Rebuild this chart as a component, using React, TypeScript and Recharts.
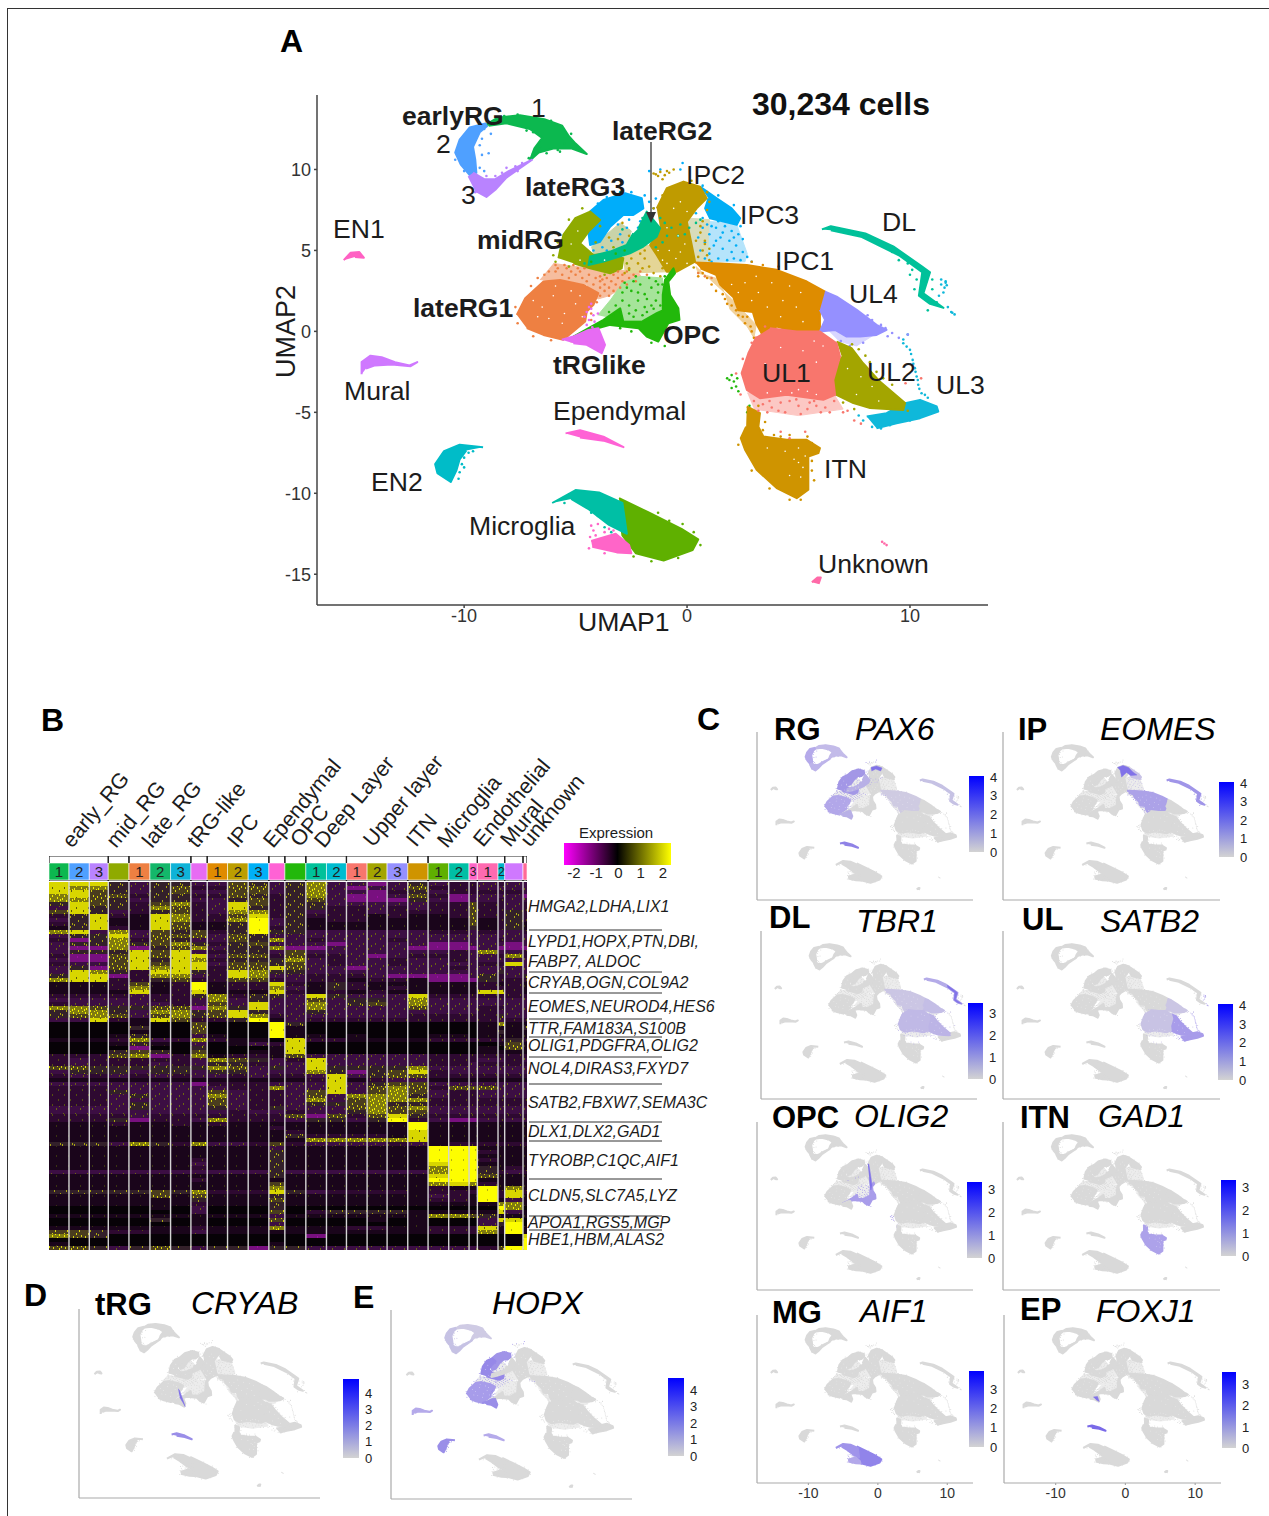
import React from 'react';
import { ScatterChart, Scatter, XAxis, YAxis, BarChart, Bar, Cell, ReferenceLine, LabelList } from 'recharts';

const FONT = '"Liberation Sans", Arial, sans-serif';

// ---------- UMAP cluster outlines and stray cells, in UMAP units ----------
const earlyRG1Outline = [[-9.1,12.7],[-8.5,13.2],[-7.5,13.35],[-6.4,13.1],[-5.6,12.7],[-5.3,12.05],[-5.0,11.6],[-4.5,10.95],[-5.2,11.3],[-6.0,11.3],[-6.65,11.05],[-7.05,10.55],[-6.85,11.3],[-6.5,11.95],[-7.05,12.5],[-8.1,12.85],[-8.9,12.7]];
const earlyRG1Cells = [[-6.9,10.9],[-6.6,11.4],[-6.3,11.0],[-5.8,11.2],[-5.0,11.3],[-7.2,12.4],[-6.9,12.3],[-6.9,11.0],[-4.8,11.2],[-5.2,12.2],[-7.6,13.4],[-8.2,13.3],[-6.1,13.0],[-5.5,11.6],[-5.7,11.1],[-7.1,10.7]];
const earlyRG2Outline = [[-9.0,12.85],[-9.75,12.6],[-10.2,11.85],[-10.4,11.05],[-10.15,10.3],[-9.75,9.65],[-9.45,9.8],[-9.5,10.6],[-9.6,11.4],[-9.3,12.3],[-8.95,12.7]];
const earlyRG2Cells = [[-9.3,11.5],[-9.2,10.9],[-9.3,10.1],[-9.1,9.9],[-8.9,11.0],[-9.2,11.9],[-8.8,12.2],[-10.4,10.6],[-10.0,9.9],[-9.1,12.5]];
const earlyRG3Outline = [[-9.8,9.6],[-9.45,8.65],[-9.0,8.3],[-8.6,8.75],[-8.1,9.5],[-6.95,10.6],[-8.0,9.9],[-8.6,9.4],[-9.1,9.4],[-9.6,9.8]];
const earlyRG3Cells = [[-8.6,9.6],[-8.3,9.8],[-7.7,10.2],[-7.4,10.4],[-9.0,9.6],[-8.1,10.1],[-7.6,9.9],[-8.3,9.3],[-9.5,8.6]];
const en1Outline = [[-15.4,4.4],[-15.1,4.85],[-14.7,4.9],[-14.5,4.55],[-14.9,4.6]];
const muralOutline = [[-14.6,-2.65],[-14.6,-1.9],[-14.2,-1.5],[-13.7,-1.6],[-13.1,-1.9],[-12.45,-2.1],[-12.1,-1.9],[-12.4,-2.15],[-13.25,-2.05],[-14.0,-2.1],[-14.4,-2.3]];
const lateRG3Outline = [[-4.35,7.4],[-3.75,8.12],[-2.78,8.53],[-2.03,8.22],[-1.96,7.6],[-2.41,7.19],[-2.86,7.19],[-3.45,6.47],[-3.9,5.54],[-4.35,5.34],[-4.42,6.06],[-3.9,6.88]];
const lateRG3Cells = [[-4.2,5.0],[-3.8,5.2],[-3.4,5.6],[-3.0,6.0],[-2.7,6.4],[-3.6,5.0],[-2.9,5.5],[-3.1,6.6],[-2.6,6.9],[-1.7,9.9],[-1.2,10.0],[-0.2,10.4],[-0.3,10.0],[-1.6,6.6],[-1.9,8.4],[-1.7,8.0],[-1.5,7.6],[-1.4,8.2],[-1.2,7.4],[-2.1,6.8],[-2.2,6.4],[-2.5,8.6],[-3.0,8.6],[-3.6,8.3],[-4.0,7.9]];
const midRGOutline = [[-5.77,4.52],[-5.55,5.96],[-5.02,6.99],[-4.35,7.4],[-3.9,6.88],[-4.42,6.16],[-4.8,5.44],[-4.2,4.72],[-3.45,4.82],[-2.86,4.52],[-2.93,3.9],[-3.45,3.59],[-4.35,3.9],[-5.1,4.21]];
const midRGCells = [[-4.3,6.6],[-3.9,6.5],[-4.1,5.5],[-4.5,5.0],[-3.3,5.2],[-4.7,7.6],[-5.3,6.9],[-5.8,5.5],[-6.0,4.7],[-5.9,4.3],[-2.7,4.2],[-2.6,3.8],[-3.7,3.5],[-5.3,4.0]];
const ipc3Outline = [[0.58,8.94],[1.33,8.22],[2.0,7.6],[2.38,6.99],[2.23,6.58],[1.63,6.78],[1.03,6.99],[0.81,7.6],[0.96,8.22]];
const ipc3Cells = [[0.9,6.6],[1.3,6.4],[1.7,6.5],[2.0,6.2],[2.3,6.0],[1.0,6.0],[1.5,5.8],[1.9,5.6],[2.2,5.3],[0.8,5.5],[1.2,5.3],[1.6,5.1],[2.0,4.9],[2.5,4.9],[2.7,4.6],[1.0,4.8],[1.4,4.5],[0.8,4.5],[1.8,4.4],[2.4,4.4],[0.5,5.8],[0.7,6.4],[2.1,4.5],[1.1,4.3],[0.6,5.0],[1.9,6.9],[2.9,4.3],[1.4,6.8],[1.6,6.1],[1.1,6.5],[0.7,7.0],[2.1,5.8],[1.3,5.6],[2.4,6.5],[2.5,5.7],[0.4,7.3],[0.7,9.0],[1.4,8.4],[2.1,7.8]];
const ipc2Outline = [[-1.36,7.6],[-0.91,8.84],[-0.16,9.25],[0.58,8.94],[0.88,8.22],[0.43,7.6],[-0.01,6.78],[0.21,5.34],[0.36,4.31],[-0.46,3.69],[-0.91,3.69],[-1.36,4.72],[-1.66,5.34],[-1.21,6.37]];
const ipc2Cells = [[1.0,8.0],[0.9,7.5],[0.7,6.8],[0.6,6.1],[0.8,5.6],[1.0,5.1],[-1.5,7.6],[-1.6,7.1],[-1.8,6.6],[-2.2,5.7],[-2.7,5.2],[-2.4,5.0],[-2.1,4.8],[-2.5,4.5],[-2.2,4.2],[-1.9,4.5],[-1.7,4.0],[-2.0,3.9],[-2.6,3.9],[-1.5,3.6],[-1.2,3.4],[0.5,4.6],[0.7,5.0],[0.4,5.6],[0.8,5.4],[0.9,4.7],[0.6,6.5],[0.3,3.95],[1.0,4.4],[-1.5,9.75],[-1.2,9.85],[-0.9,9.9],[-0.6,10.0],[-1.3,9.6],[-1.0,9.65],[-0.8,9.8],[-1.4,9.7],[-1.1,9.4],[-3.1,5.7],[-3.5,5.8],[-2.6,5.9],[-2.9,6.7],[-1.1,8.4],[0.2,9.3],[0.9,8.6],[-1.9,5.0],[-1.1,3.9],[-2.8,3.6]];
const lateRG2Outline = [[-2.18,6.37],[-1.81,7.4],[-1.21,6.37],[-1.36,5.85],[-1.96,5.24],[-2.56,4.82],[-3.75,4.31],[-4.42,4.1],[-4.35,4.62],[-3.45,4.93],[-2.71,5.34],[-2.41,6.06]];
const lateRG2Cells = [[-0.7,6.4],[-0.3,6.6],[0.1,6.4],[0.4,6.7],[0.6,6.9],[-0.4,5.9],[-0.9,5.9],[-1.0,6.7],[-1.4,5.2],[-1.1,5.5],[-2.9,6.3],[-4.6,4.2],[-1.2,7.0],[-0.1,6.0],[-2.0,7.0]];
const ipc1Outline = [[0.36,4.25],[1.48,4.2],[2.68,4.1],[4.02,3.8],[5.37,3.08],[6.19,2.46],[5.96,1.33],[5.96,0.09],[5.07,-0.11],[4.02,0.3],[3.42,-0.32],[3.1,0.5],[2.95,1.2],[2.3,1.3],[2.08,2.1],[1.48,2.9],[1.3,3.5],[0.6,3.9]];
const ipc1Cells = [[0.5,3.4],[0.9,3.3],[1.1,2.9],[1.3,2.5],[1.6,2.3],[1.8,1.7],[2.3,1.0],[2.6,0.5],[2.9,0.0],[2.7,0.9],[2.0,1.6],[2.5,0.9],[2.2,1.3],[0.7,3.6],[1.7,2.0],[3.0,-0.4],[2.85,0.3],[4.1,4.0],[2.9,4.3],[3.4,4.1]];
const lateRG1Outline = [[-7.64,1.02],[-7.26,2.05],[-6.44,3.08],[-5.7,3.18],[-4.65,2.87],[-3.98,2.36],[-4.2,1.64],[-4.5,1.22],[-4.57,0.61],[-5.55,-0.52],[-6.44,-0.22],[-7.19,0.2]];
const lateRG1Cells = [[-5.9,4.1],[-5.5,4.1],[-5.1,4.1],[-5.8,3.9],[-5.4,3.9],[-4.9,3.9],[-4.6,3.9],[-6.2,3.7],[-5.9,3.7],[-5.2,3.7],[-4.8,3.7],[-3.9,3.4],[-3.1,3.7],[-2.7,3.7],[-6.4,3.5],[-5.6,3.5],[-5.0,3.5],[-4.4,3.5],[-3.8,3.2],[-3.3,3.5],[-2.9,3.5],[-2.4,3.5],[-6.7,3.3],[-5.3,3.3],[-4.7,3.3],[-4.1,3.3],[-3.6,3.3],[-3.1,3.3],[-2.6,3.3],[-4.5,3.1],[-3.9,3.1],[-3.4,3.1],[-2.9,3.1],[-2.3,3.1],[-4.2,2.9],[-3.7,2.9],[-3.2,2.9],[-2.7,2.9],[-3.9,2.7],[-3.5,2.7],[-3.0,2.7],[-3.7,2.5],[-3.3,2.5],[-3.9,2.2],[-3.5,2.2],[-4.05,1.8],[-4.3,1.1],[-4.3,0.7],[-7.7,1.5],[-7.6,0.5],[-6.9,-0.3],[-6.1,-0.55],[-5.2,-0.6],[-2.1,3.7],[-1.8,3.5],[0.5,3.6],[0.8,3.4],[1.1,3.3],[-7.0,2.8]];
const opcOutline = [[-5.1,-0.32],[-3.75,0.71],[-3.0,1.43],[-2.86,0.61],[-2.03,0.61],[-1.36,1.12],[-1.09,1.3],[-1.09,2.25],[-0.99,3.18],[-0.61,3.9],[-0.54,3.59],[-0.84,3.08],[-0.76,2.25],[-0.39,1.43],[-0.34,0.71],[-0.84,0.5],[-1.29,-0.63],[-1.81,-0.32],[-2.18,0.2],[-3.45,0.4],[-4.5,0]];
const opcCells = [[-3.5,1.2],[-3.2,1.6],[-2.9,1.9],[-2.6,1.6],[-2.9,2.4],[-2.5,2.5],[-2.2,1.9],[-1.9,2.3],[-1.6,2.7],[-1.9,1.5],[-1.6,1.6],[-1.3,2.4],[-1.1,2.9],[-1.4,1.9],[-2.3,1.3],[-2.6,1.1],[-2.0,1.0],[-2.8,3.0],[-2.4,3.1],[-2.1,2.9],[-1.7,3.3],[-1.4,3.1],[-1.0,3.4],[-3.0,1.2],[-2.7,2.7],[-1.8,2.0],[-1.5,1.4],[-3.3,1.0],[-2.2,2.4],[-1.8,1.2],[-2.4,0.9],[-1.2,1.6],[-1.3,2.9],[-2.3,3.4],[-1.6,-0.7],[-1.0,-0.9],[-2.5,0.0],[-3.0,0.2],[1.8,-2.9],[1.9,-3.0],[2.0,-2.7],[2.1,-3.1],[2.2,-3.4],[2.0,-3.5],[2.25,-2.9],[2.3,-3.7],[2.8,-4.6],[2.9,-4.9],[2.7,-5.0],[2.85,-4.8],[2.75,-4.85],[-2.8,5.0],[-3.2,4.8],[-4.3,4.3]];
const tRGOutline = [[-5.62,-0.52],[-5.1,-0.32],[-4.42,0.09],[-3.98,0.2],[-3.68,-0.83],[-3.83,-1.35],[-4.5,-0.83],[-5.1,-0.73]];
const tRGCells = [[-4.5,1.2],[-4.3,1.4],[-4.2,1.0],[-4.4,0.7],[-4.15,0.6],[-4.0,1.1],[-4.5,0.4],[-4.25,0.25],[-4.6,0.9],[-4.3,1.7],[-4.4,1.5]];
const ul4Outline = [[6.19,2.46],[6.71,2.15],[7.61,1.33],[8.5,0.4],[8.95,0.09],[8.5,-0.22],[7.76,-0.32],[7.16,-0.32],[6.64,0.09],[5.96,-0.01],[6.19,0.71],[5.96,1.33]];
const ul4Cells = [[8.9,0.2],[9.2,-0.1],[9.5,-0.4],[8.7,0.4],[9.0,-0.3],[8.3,0.7],[7.9,-0.7],[7.3,-0.9],[6.9,-0.6],[9.9,-0.2],[8.1,1.0]];
const ul1Outline = [[3.72,0.2],[4.92,-0.01],[5.96,-0.01],[6.71,-0.73],[6.86,-1.55],[6.56,-3.0],[6.64,-3.92],[6.11,-4.23],[4.47,-3.92],[3.27,-4.13],[2.68,-3.61],[2.45,-2.58],[2.75,-1.35],[3.12,-0.32]];
const ul1Cells = [[3.0,-4.3],[3.4,-4.5],[3.8,-4.7],[4.2,-4.4],[4.6,-4.3],[5.0,-4.6],[5.4,-4.8],[5.8,-4.6],[6.2,-4.7],[6.6,-4.3],[7.0,-5.0],[7.2,-4.9],[3.2,-4.9],[3.6,-5.0],[4.4,-5.0],[5.1,-5.1],[4.2,-6.2],[4.6,-6.6],[5.3,-6.2],[3.7,-4.3],[6.0,-5.0],[9.8,-3.2],[2.4,-3.9],[2.2,-2.6],[2.5,-1.7],[2.9,-0.7],[3.5,0.3],[4.9,-4.2],[5.7,-4.3],[7.5,-5.5],[7.8,-5.7],[10.5,-2.9],[4.1,-4.9],[5.5,-4.4],[6.4,-5.0]];
const ul2Outline = [[6.71,-0.63],[7.38,-1.04],[7.9,-1.97],[8.65,-3.1],[9.78,-4.43],[9.7,-4.85],[8.21,-4.74],[7.46,-4.43],[6.56,-3.82],[6.56,-3.0],[6.94,-1.55]];
const ul2Cells = [[7.7,-1.1],[8.0,-1.5],[8.2,-1.9],[8.5,-2.5],[8.8,-2.9],[9.2,-3.3],[7.4,-0.8],[8.6,-3.9],[7.5,-4.8],[7.0,-4.4],[9.9,-4.9]];
const ul3Outline = [[8.06,-5.26],[8.95,-5.05],[9.78,-4.43],[10.45,-4.23],[11.2,-4.64],[11.27,-4.95],[10.45,-5.36],[9.4,-5.67],[8.5,-5.98]];
const ul3Cells = [[9.7,-0.73],[9.85,-0.94],[10.0,-1.14],[10.12,-1.76],[10.22,-2.27],[10.3,-2.79],[10.37,-3.3],[10.52,-3.82],[10.67,-3.92],[10.05,-1.4],[10.15,-2.0],[10.25,-2.5],[10.35,-3.0],[10.42,-3.55],[10.8,-4.1],[9.9,-0.2],[9.7,-0.5],[11.4,3.2],[11.6,3.0],[11.5,2.4],[11.3,2.2],[11.1,1.8],[11.7,1.5],[11.9,1.15],[12.0,1.05],[11.85,1.2],[11.6,3.1],[11.4,2.9],[11.55,2.7],[11.65,2.85],[7.9,-5.5],[7.7,-5.2],[8.3,-5.9],[8.7,-6.0],[9.1,-5.8],[10.0,-5.5]];
const dlOutline = [[6.05,6.3],[6.45,6.5],[8.0,6.05],[9.25,5.25],[10.5,4.05],[10.9,3.65],[10.6,2.35],[11.5,1.45],[10.9,1.7],[10.4,2.2],[10.55,3.65],[9.5,4.7],[7.8,5.85],[6.45,6.25]];
const dlCells = [[9.9,4.2],[10.1,3.8],[10.0,3.5],[10.3,3.2],[11.0,3.2],[10.2,2.6],[10.8,1.3],[9.5,4.4],[11.2,1.8],[9.2,4.9],[8.6,5.4],[11.0,2.6],[10.7,3.0]];
const itnOutline = [[2.68,-4.64],[3.27,-5.05],[3.2,-5.88],[3.42,-6.49],[4.47,-6.7],[5.37,-6.7],[5.96,-7.21],[5.89,-7.52],[5.44,-7.73],[5.44,-9.78],[4.92,-10.3],[4.02,-9.68],[3.12,-8.55],[2.6,-7.31],[2.41,-6.6],[2.65,-5.88]];
const itnCells = [[3.5,-5.6],[3.4,-6.1],[3.9,-6.4],[4.6,-6.4],[5.4,-6.5],[5.6,-6.9],[3.2,-4.6],[4.2,-6.5],[5.6,-8.0],[5.6,-8.6],[5.7,-9.2],[2.3,-7.0],[2.9,-8.6],[3.7,-9.7],[4.6,-10.4],[5.1,-10.4]];
const en2Outline = [[-9.15,-7.15],[-10.2,-7.0],[-10.9,-7.4],[-11.3,-8.2],[-11.2,-8.75],[-10.6,-9.3],[-10.35,-8.6],[-10.2,-7.9],[-9.9,-7.35]];
const en2Cells = [[-10.0,-7.8],[-10.1,-8.2],[-9.8,-7.5],[-10.2,-8.7],[-10.0,-8.4],[-10.25,-9.1],[-9.6,-7.4]];
const ependymalOutline = [[-5.45,-6.3],[-4.8,-6.1],[-3.75,-6.5],[-2.85,-7.15],[-3.75,-6.75],[-4.8,-6.55]];
const microglia2Outline = [[-6.05,-10.6],[-5.0,-9.8],[-3.95,-9.95],[-2.9,-10.6],[-2.7,-12.5],[-3.5,-11.95],[-4.4,-11.0],[-5.2,-10.35]];
const microglia2Cells = [[-4.0,-11.4],[-3.7,-12.1],[-3.4,-12.4],[-4.3,-11.2],[-5.5,-10.6],[-3.3,-12.7]];
const microglia1Outline = [[-3.05,-10.3],[-1.7,-11.2],[-0.25,-12.2],[0.5,-12.85],[0.25,-13.5],[-1.05,-14.15],[-2.3,-13.7],[-2.9,-12.6],[-3.0,-11.5]];
const microglia1Cells = [[-1.3,-11.2],[-0.8,-11.7],[-0.2,-11.9],[0.3,-12.4],[0.6,-13.2],[-0.4,-14.0],[-1.6,-14.2],[-2.4,-13.9]];
const microglia3Outline = [[-4.3,-12.95],[-3.2,-12.5],[-2.6,-13.2],[-2.5,-13.7],[-3.15,-13.65],[-4.25,-13.3]];
const microglia3Cells = [[-4.3,-12.0],[-4.2,-12.3],[-4.1,-12.6],[-3.7,-12.4],[-3.5,-12.2],[-4.35,-12.7],[-4.0,-11.9],[-3.3,-12.3],[-4.4,-13.4],[-3.7,-13.7]];
const unknownOutline = [[5.6,-15.5],[5.85,-15.2],[6.0,-15.2],[5.9,-15.6]];
const unknownCells = [[8.75,-13.0],[8.85,-13.1],[8.95,-13.2],[5.75,-15.4]];
const denseGaps = [[-6.5,1.5],[-6.0,2.2],[-5.5,1.1],[-5.2,2.5],[-6.2,0.8],[-5.0,1.7],[-4.8,2.2],[-5.6,0.5],[-6.9,1.9],[-6.7,0.9],[-5.9,2.8],[-4.7,0.9],[2.6,3.0],[3.2,2.4],[3.8,3.0],[4.3,1.9],[2.9,1.9],[2.3,2.4],[2.0,2.9],[3.6,1.5],[3.1,3.4],[4.6,2.8],[4.9,1.5],[5.1,2.4],[4.2,0.9],[5.2,0.6],[5.2,-1.2],[5.8,-1.9],[4.2,-1.0],[3.5,-2.0],[5.0,-3.6],[4.2,-3.7],[3.6,-3.8],[5.8,-3.9],[5.4,-3.7],[4.7,-3.8],[6.1,-0.9],[5.7,-0.6],[4.8,-7.9],[5.2,-8.4],[5.0,-7.2],[4.4,-7.4],[5.1,-9.0],[5.3,-7.7],[4.6,-8.9],[3.6,-7.2],[5.0,-8.1],[-0.3,8.0],[0.0,7.4],[-0.6,7.6],[-0.4,5.9],[-0.8,5.0],[-1.1,4.4],[-0.3,4.9],[0.0,4.2],[-1.3,5.0],[-0.9,4.2],[-0.5,4.5],[-0.1,5.4],[-0.9,6.4],[7.8,-2.8],[8.3,-3.4],[7.6,-3.9],[7.2,-2.3],[8.6,-4.3],[-3.7,4.4],[-4.8,4.4],[-5.2,5.4],[-4.9,6.2]];
// thinly populated areas between the dense clusters
const orangeThin = [[-6.0,4.2],[-5.0,4.0],[-3.5,3.8],[-2.2,3.7],[-2.0,3.2],[-2.8,2.8],[-3.5,2.2],[-4.0,2.0],[-4.5,2.9],[-6.6,3.2]];
const greenThin = [[-4.0,1.0],[-3.4,2.0],[-2.9,3.0],[-2.1,3.4],[-1.1,3.3],[-1.1,1.2],[-2.0,0.7],[-3.0,0.7]];
const skyThin = [[0.7,6.8],[2.2,6.7],[2.7,4.8],[2.6,4.3],[0.7,4.3]];
const ringThin = [[-4.3,5.2],[-3.0,6.7],[-2.5,6.2],[-2.7,5.3],[-3.4,4.9],[-4.2,4.7]];
const goldThinLeft = [[-2.9,5.3],[-1.7,5.3],[-0.5,3.7],[-2.8,3.6]];
const goldThinRight = [[0.0,7.0],[1.0,6.9],[0.9,4.3],[0.3,4.3]];
const salmonThin = [[2.7,-3.8],[6.6,-3.9],[7.0,-4.8],[5.0,-5.2],[3.0,-4.8]];
const ipc1Thin = [[1.5,3.2],[0.5,3.6],[0.4,4.0],[2.0,2.0],[3.1,0.4],[3.0,-0.4],[2.7,0.3],[1.9,1.4]];
const ul4Thin = [[6.3,0.1],[8.4,-0.2],[7.6,-0.9],[6.8,-0.6]];
const thinAreas = [
  { name: 'orange', color: '#f6bd9e', outline: orangeThin },
  { name: 'green', color: '#a6e49a', outline: greenThin },
  { name: 'sky', color: '#b5e4fb', outline: skyThin },
  { name: 'ring', color: '#c9d3a8', outline: ringThin },
  { name: 'goldLeft', color: '#e4d596', outline: goldThinLeft },
  { name: 'goldRight', color: '#d9dcbb', outline: goldThinRight },
  { name: 'salmon', color: '#fcc8c4', outline: salmonThin },
  { name: 'ipc1', color: '#f2d29b', outline: ipc1Thin },
  { name: 'ul4', color: '#d8d6ff', outline: ul4Thin },
];

const clusterTable = [
  { name: 'lateRG3', color: '#00ADFA', outline: lateRG3Outline, cells: lateRG3Cells },
  { name: 'midRG', color: '#8FAA00', outline: midRGOutline, cells: midRGCells },
  { name: 'IPC3', color: '#00AEF5', outline: ipc3Outline, cells: ipc3Cells },
  { name: 'IPC2', color: '#BF9B00', outline: ipc2Outline, cells: ipc2Cells },
  { name: 'lateRG2', color: '#00BF85', outline: lateRG2Outline, cells: lateRG2Cells },
  { name: 'IPC1', color: '#DE8C00', outline: ipc1Outline, cells: ipc1Cells },
  { name: 'lateRG1', color: '#EE8042', outline: lateRG1Outline, cells: lateRG1Cells },
  { name: 'OPC', color: '#22B80B', outline: opcOutline, cells: opcCells },
  { name: 'tRG', color: '#E76BF3', outline: tRGOutline, cells: tRGCells },
  { name: 'earlyRG1', color: '#0CB84F', outline: earlyRG1Outline, cells: earlyRG1Cells },
  { name: 'earlyRG2', color: '#4FA0FF', outline: earlyRG2Outline, cells: earlyRG2Cells },
  { name: 'earlyRG3', color: '#B983FF', outline: earlyRG3Outline, cells: earlyRG3Cells },
  { name: 'EN1', color: '#FF61C3', outline: en1Outline, cells: [] },
  { name: 'Mural', color: '#CF78FF', outline: muralOutline, cells: [] },
  { name: 'ITN', color: '#CF9400', outline: itnOutline, cells: itnCells },
  { name: 'UL3', color: '#0FB8DA', outline: ul3Outline, cells: ul3Cells },
  { name: 'UL4', color: '#9590FF', outline: ul4Outline, cells: ul4Cells },
  { name: 'UL2', color: '#A3A500', outline: ul2Outline, cells: ul2Cells },
  { name: 'UL1', color: '#F8766D', outline: ul1Outline, cells: ul1Cells },
  { name: 'DL', color: '#00C19A', outline: dlOutline, cells: dlCells },
  { name: 'EN2', color: '#00BCC8', outline: en2Outline, cells: en2Cells },
  { name: 'Ependymal', color: '#FF62D5', outline: ependymalOutline, cells: [] },
  { name: 'Microglia1', color: '#5FB000', outline: microglia1Outline, cells: microglia1Cells },
  { name: 'Microglia2', color: '#00BFA5', outline: microglia2Outline, cells: microglia2Cells },
  { name: 'Microglia3', color: '#FF65C8', outline: microglia3Outline, cells: microglia3Cells },
  { name: 'Unknown', color: '#FF6AA8', outline: unknownOutline, cells: unknownCells },
];

const yTicksMain = [10, 5, 0, -5, -10, -15];
const xTicksMain = [-10, 0, 10];

// ---------- heatmap: mean scaled expression level per band (rows) and cell group (columns) ----------
const heatColumns = ['e1','e2','e3','m','l1','l2','l3','t','i1','i2','i3','ep','o','d1','d2','u1','u2','u3','n','g1','g2','g3','v1','v2','mu','un'];
const heatCellCounts = [60,61,57,62,63,62,61,49,61,62,62,48,63,62,60,62,60,62,61,62,61,25,62,20,55,12];
const stripColors = ['#0CB84F','#4FA0FF','#B983FF','#8FAA00','#EE8042','#13B76A','#0FB3D8','#E76BF3','#E08B00','#BC9E00','#00B0F6','#FF62D5','#22B80B','#00C19A','#00BCD0','#F8766D','#A3A500','#9590FF','#CF9400','#5FB000','#00BFA5','#FF65C8','#FF6AB0','#00B4C8','#CF78FF','#FF6A98'];
const stripNumbers = ['1','2','3','','1','2','3','','1','2','3','','','1','2','1','2','3','','1','2','3','1','2','',''];
const groupSizes = [3,1,3,1,3,1,1,2,3,1,3,2,1,1];
// background colour, speck colour and speck places of each expression level's stipple
const heatLevels = [
  { bg:'#070207', speck:'#070207', specks:[] },
  { bg:'#1a051b', speck:'#3a3610', specks:[[7,3]] },
  { bg:'#2e0931', speck:'#55510f', specks:[[3,2],[9,7]] },
  { bg:'#3c0e43', speck:'#6b670f', specks:[[2,1],[7,6],[10,3]] },
  { bg:'#78107f', speck:'#9a10a0', specks:[[4,4]] },
  { bg:'#33202a', speck:'#a9a510', specks:[[1,2],[5,8],[9,4],[11,1]] },
  { bg:'#4a3d1e', speck:'#d8d50c', specks:[[0,4],[3,1],[6,8],[8,3],[10,6],[4,5]] },
  { bg:'#7f7a10', speck:'#f4f200', specks:[[0,0],[1,6],[3,3],[5,8],[6,1],[8,5],[9,9],[10,2],[11,7]] },
  { bg:'#d8d600', speck:'#5a5610', specks:[[3,5],[10,8]] },
  { bg:'#fdfd00', speck:'#b8b410', specks:[[6,7]] },
];
const heatBands = [
'888 5 355 3 365 3 5 73 343 5 322 32 3 3',
'877 5 356 2 266 3 5 73 433 6 222 33 3 3',
'886 5 356 3 366 3 5 73 342 5 322 22 2 3',
'786 6 255 2 265 2 5 73 443 6 243 33 3 4',
'776 5 355 3 356 2 5 63 444 5 343 32 3 3',
'586 5 267 2 386 2 5 53 333 3 226 22 3 2',
'385 5 276 2 385 2 5 52 232 3 226 22 3 2',
'685 3 256 2 377 2 5 32 232 2 226 22 5 2',
'258 2 187 2 268 2 5 22 212 1 126 22 5 2',
'358 1 187 2 279 3 5 12 211 1 116 12 5 2',
'258 1 186 1 159 3 5 11 111 1 116 12 5 1',
'158 2 186 1 159 2 5 11 111 1 115 12 5 1',
'783 7 365 6 259 5 5 33 333 3 223 23 3 2',
'355 8 366 6 365 3 3 33 333 3 333 33 3 3',
'245 7 265 3 365 7 3 23 332 3 333 32 3 3',
'355 7 567 5 256 3 3 34 333 3 443 33 4 3',
'344 7 456 7 355 7 4 43 333 4 444 34 4 4',
'355 5 868 3 255 3 6 33 333 3 323 73 3 2',
'244 6 868 8 366 2 6 22 343 2 223 32 7 2',
'344 6 858 7 255 5 7 32 332 3 323 33 3 3',
'233 6 868 8 366 5 6 32 332 3 333 22 8 3',
'354 6 878 8 266 8 6 33 433 3 323 33 3 3',
'387 5 288 5 287 5 5 33 333 3 333 35 3 3',
'588 4 277 3 287 3 3 22 234 4 443 52 3 5',
'788 2 256 2 266 2 3 22 122 1 444 52 2 2',
'111 2 612 9 122 8 2 15 211 1 111 21 2 1',
'111 2 712 9 122 7 3 15 212 1 111 22 2 1',
'111 1 812 8 111 8 2 12 121 1 111 88 2 1',
'222 2 322 5 725 5 3 85 333 8 222 22 2 2',
'333 3 322 3 735 3 3 63 553 7 333 33 3 3',
'233 3 332 3 638 3 3 73 563 7 333 33 3 3',
'776 5 566 4 758 3 3 73 333 6 333 22 3 3',
'577 5 377 5 685 3 3 53 333 3 333 23 3 3',
'567 6 367 5 687 2 3 33 333 2 222 25 3 3',
'338 2 186 2 259 1 3 22 222 2 222 23 2 2',
'000 0 100 6 000 9 5 00 000 0 000 17 1 1',
'000 0 500 6 000 9 1 00 000 0 000 11 1 5',
'000 0 100 6 000 9 1 00 000 0 000 15 1 1',
'000 1 500 3 100 9 1 10 100 0 110 11 1 1',
'111 2 732 7 211 0 8 22 111 1 222 22 5 2',
'000 1 510 3 013 2 8 00 000 0 000 01 6 1',
'000 0 400 5 000 1 8 00 000 0 000 10 6 1',
'000 5 650 6 001 1 8 00 000 0 000 11 1 1',
'222 6 742 7 122 1 6 33 333 3 222 22 2 2',
'232 2 222 3 765 3 2 83 333 3 222 33 2 3',
'232 2 232 3 552 3 3 83 333 3 223 22 2 2',
'665 5 555 5 763 5 3 85 555 7 333 33 3 3',
'355 5 355 3 553 3 3 75 456 8 233 33 3 3',
'232 3 232 3 323 2 2 38 356 6 222 22 2 2',
'111 1 111 1 111 1 1 28 123 3 111 11 1 1',
'333 3 333 4 222 3 3 38 356 6 333 33 3 3',
'222 3 333 3 322 7 3 38 367 6 266 63 3 3',
'222 5 333 3 632 2 3 68 367 6 322 33 3 3',
'222 3 533 3 732 2 3 63 777 5 322 33 3 3',
'222 3 333 3 632 2 3 73 677 7 222 22 2 2',
'222 3 533 3 632 2 3 55 675 5 222 22 2 2',
'333 3 533 3 532 5 3 33 676 7 333 33 3 3',
'333 3 333 3 323 3 2 33 576 6 333 33 3 3',
'222 2 322 2 222 2 6 46 268 5 222 22 2 2',
'222 5 422 3 722 2 3 55 359 2 344 32 3 3',
'111 2 112 1 211 1 1 11 111 9 111 11 1 1',
'111 1 111 1 111 2 1 11 111 9 111 11 1 1',
'111 1 111 1 111 1 2 11 111 8 111 11 1 1',
'111 1 111 1 111 1 5 22 221 8 111 11 1 1',
'111 1 111 1 111 1 1 77 777 8 111 11 1 1',
'555 3 752 7 332 6 2 33 332 3 122 22 2 2',
'111 1 111 1 111 3 1 11 111 1 999 11 1 1',
'111 1 111 1 111 5 1 11 111 1 999 21 1 1',
'111 1 111 1 111 5 1 11 111 1 999 11 1 1',
'111 1 111 2 111 5 1 11 111 1 999 21 1 1',
'111 1 111 3 111 5 1 11 111 1 899 11 1 1',
'111 1 111 2 111 5 1 11 111 1 799 51 2 1',
'333 3 333 3 333 5 3 33 333 3 799 52 3 2',
'111 1 111 1 111 5 1 11 111 1 899 61 1 1',
'111 1 111 2 111 1 1 11 111 1 999 11 1 1',
'111 1 111 1 111 6 1 11 111 1 787 21 1 1',
'111 1 111 1 111 7 1 11 111 1 211 91 7 1',
'555 5 565 7 222 8 5 32 222 1 222 92 8 2',
'111 1 161 6 111 5 1 11 111 1 321 92 8 1',
'111 1 111 5 111 6 1 11 111 1 221 91 3 1',
'111 1 111 2 111 5 1 11 111 1 111 17 7 1',
'000 0 010 3 000 5 0 00 000 0 000 09 7 0',
'000 0 000 3 000 6 0 25 555 1 111 18 3 1',
'111 1 111 1 111 3 1 11 111 1 776 51 1 1',
'000 0 050 1 000 6 0 00 010 1 000 38 8 0',
'000 0 000 1 000 3 0 00 000 1 000 35 9 0',
'111 1 111 2 111 7 1 11 221 1 222 81 9 1',
'665 2 211 3 111 1 1 11 111 1 222 71 9 1',
'765 0 000 0 000 0 0 40 000 0 000 00 0 8',
'000 0 000 0 000 0 0 00 000 0 000 00 0 9',
'100 0 000 0 000 1 0 00 000 0 000 00 0 9',
'665 3 565 3 554 5 5 33 333 3 333 26 9 9',
];
const expressionTicks = [-2, -1, 0, 1, 2];
const expressionRange = [-2.45, 2.36];

// ---------- text ----------
const regularLabels = [
  ['1',531,117],['2',436,153],['3',461,204],['IPC2',686,184],['IPC3',740,224],['DL',882,231],['EN1',333,238],['IPC1',775,270],['UL4',849,303],['UL1',762,382],['UL2',867,381],['UL3',936,394],['Mural',344,400],['Ependymal',553,420],['ITN',824,478],['EN2',371,491],['Microglia',469,535],['Unknown',818,573],
];
const boldLabels = [
  ['earlyRG',402,125],['lateRG2',612,140],['lateRG3',525,196],['midRG',477,249],['lateRG1',413,317],['OPC',663,344],['tRGlike',553,374],
];
const headerLabels = [
  ['early_RG',72,849],['mid_RG',116,849],['late_RG',152,849],['tRG-like',197,849],['IPC',237,849],['Ependymal',273,849],['OPC',300,848],['Deep Layer',324,849],['Upper layer',373,848],['ITN',416,848],['Microglia',447,849],['Endothelial',483,848],['Mural',510,848],['unknown',530,848],
];
const geneLabels = [
  ['HMGA2,LDHA,LIX1',912],['LYPD1,HOPX,PTN,DBI,',947],['FABP7, ALDOC',967],['CRYAB,OGN,COL9A2',988],['EOMES,NEUROD4,HES6',1012],['TTR,FAM183A,S100B',1034],['OLIG1,PDGFRA,OLIG2',1051],['NOL4,DIRAS3,FXYD7',1074],['SATB2,FBXW7,SEMA3C',1108],['DLX1,DLX2,GAD1',1137],['TYROBP,C1QC,AIF1',1166],['CLDN5,SLC7A5,LYZ',1201],['APOA1,RGS5,MGP',1228],['HBE1,HBM,ALAS2',1245],
];
const geneRules = [930,972,993,1019,1037,1057,1084,1122,1141,1179,1216,1230];
const panelLetters = [['A',280,52],['B',41,731],['C',697,730],['D',24,1306],['E',353,1308]];

// ---------- feature plots: tint per cluster and the small marked patches ----------
const pax6Tints = { earlyRG1:'#c3bbe9', earlyRG2:'#b5aaea', earlyRG3:'#bdb4ea', midRG:'#a397e6', lateRG3:'#a397e6', lateRG1:'#b2a7e9', lateRG2:'#b8b0e6', IPC1:'#cfcbe2', DL:'#c6c2e4', Ependymal:'#8f82e6', tRG:'#b8b0e6' };
const eomesTints = { IPC1:'#aca2e8', DL:'#a095e8', IPC3:'#c8c2e6' };
const tbr1Tints = { UL1:'#c0b9e6', UL2:'#bcb4e6', UL4:'#c4bee6', IPC1:'#cbc6e4', DL:'#b4abe8' };
const satb2Tints = { UL1:'#c8c3e4', UL2:'#a89cea', UL4:'#cbc6e4', UL3:'#a89cea' };
const olig2Tints = { OPC:'#a99dea' };
const gad1Tints = { ITN:'#ada2ea' };
const aif1Tints = { Microglia1:'#9184ea', Microglia2:'#a094ea', Microglia3:'#b3a8ea' };
const foxj1Tints = { Ependymal:'#7a6ae8' };
const cryabTints = { Ependymal:'#9a8ee8' };
const hopxTints = { midRG:'#9688e8', lateRG3:'#a094e8', lateRG1:'#a79cea', tRG:'#9a8ee8', EN2:'#9a8ee8', Mural:'#b5aaea', earlyRG2:'#c6c2e4', earlyRG1:'#cfcbe4', earlyRG3:'#c6c2e4', Ependymal:'#b5aaea' };
const pax6Patch = [[-1.0,8.9],[-0.2,9.2],[0.6,8.8],[0.4,8.2],[-0.3,8.6],[-0.9,8.2]];
const eomesPatch = [[-1.0,8.9],[-0.2,9.3],[0.6,8.9],[1.2,8.0],[1.8,7.4],[0.9,7.3],[0.3,7.9],[-0.4,7.0],[-0.6,8.3]];
const dlStrandPatch = [[9.4,5.2],[10.5,4.1],[10.9,3.65],[10.6,2.3],[11.5,1.45],[10.9,1.65],[10.4,2.2],[10.5,3.65],[9.45,4.75]];
const olig2Patch = [[-1.45,7.6],[-1.3,7.6],[-1.0,5.0],[-0.85,3.4],[-1.0,2.4],[-1.15,3.4],[-1.25,5.0]];
const cryabPatch = [[-4.6,1.8],[-4.45,1.6],[-3.8,-0.9],[-3.7,-1.35],[-4.0,-0.6],[-4.4,0.3]];
const foxj1Patch = [[-4.6,-0.4],[-4.0,-0.3],[-3.75,-1.3],[-4.2,-0.95]];
const yTicksFeature = [-10, 0, 10];
const xTicksFeature = [-10, 0, 10];
const featurePanels = [
  { id:'PAX6', tag:'RG', tagX:774, tagY:740, geneX:855, geneY:740, l:757,r:973,t:732,b:900, tints:pax6Tints, patch:pax6Patch, bar:[969,776,15,76,4.05], ticks:[0,1,2,3,4] },
  { id:'EOMES', tag:'IP', tagX:1018, tagY:740, geneX:1100, geneY:740, l:1003,r:1220,t:732,b:900, tints:eomesTints, patch:eomesPatch, bar:[1219,782,15,75,4.05], ticks:[0,1,2,3,4] },
  { id:'TBR1', tag:'DL', tagX:769, tagY:928, geneX:856, geneY:932, l:761,r:977,t:931,b:1099, tints:tbr1Tints, patch:dlStrandPatch, bar:[968,1003,15,76,3.45], ticks:[0,1,2,3] },
  { id:'SATB2', tag:'UL', tagX:1022, tagY:930, geneX:1100, geneY:932, l:1003,r:1220,t:931,b:1099, tints:satb2Tints, patch:null, bar:[1218,1004,15,76,4.08], ticks:[0,1,2,3,4] },
  { id:'OLIG2', tag:'OPC', tagX:772, tagY:1128, geneX:854, geneY:1127, l:757,r:973,t:1122,b:1290, tints:olig2Tints, patch:olig2Patch, bar:[967,1182,15,76,3.3], ticks:[0,1,2,3] },
  { id:'GAD1', tag:'ITN', tagX:1020, tagY:1128, geneX:1098, geneY:1127, l:1003,r:1220,t:1122,b:1290, tints:gad1Tints, patch:null, bar:[1221,1180,15,76,3.3], ticks:[0,1,2,3] },
  { id:'AIF1', tag:'MG', tagX:772, tagY:1323, geneX:860, geneY:1322, l:757,r:973,t:1315,b:1483, tints:aif1Tints, patch:null, bar:[969,1371,15,76,3.95], ticks:[0,1,2,3], labelled:true },
  { id:'FOXJ1', tag:'EP', tagX:1020, tagY:1320, geneX:1096, geneY:1322, l:1004,r:1221,t:1315,b:1483, tints:foxj1Tints, patch:foxj1Patch, bar:[1222,1372,14,76,3.6], ticks:[0,1,2,3], labelled:true },
  { id:'CRYAB', tag:'tRG', tagX:95, tagY:1315, geneX:191, geneY:1314, l:79,r:320,t:1309,b:1498, tints:cryabTints, patch:cryabPatch, bar:[343,1379,16,79,4.9], ticks:[0,1,2,3,4] },
  { id:'HOPX', tag:'', tagX:0, tagY:0, geneX:492, geneY:1314, l:391,r:632,t:1310,b:1499, tints:hopxTints, patch:null, bar:[668,1378,16,78,4.75], ticks:[0,1,2,3,4] },
];

// ---------- helpers ----------
const toPoints = (pairs: number[][]) => pairs.map(([x, y]) => ({ x, y }));
const noMark = () => <g />;
const cellMark = (r: number, fill: string) => (p: any) => <circle cx={p.cx} cy={p.cy} r={r} fill={fill} />;
const total = heatCellCounts.reduce((a, b) => a + b, 0);
const rowOf = (name: string, values: number[], keys: string[]) => {
  const o: any = { row: name };
  keys.forEach((k, i) => { o[k] = values[i]; });
  return o;
};
const heatTable = heatBands.map((b, i) => ({ ...rowOf('band' + i, heatCellCounts, heatColumns), levels: b.replace(/ /g, '') }));
const boundaries = heatCellCounts.map((_, i) => heatCellCounts.slice(0, i + 1).reduce((a, b) => a + b, 0));
const groupKeys = groupSizes.map((_, i) => 'g' + i);
const groupWidths = groupSizes.map((s, i) => {
  const start = groupSizes.slice(0, i).reduce((a, b) => a + b, 0);
  return heatCellCounts.slice(start, start + s).reduce((a, b) => a + b, 0);
});

const Box = ({ l, t, children }: any) => <div style={{ position: 'absolute', left: l, top: t }}>{children}</div>;

function clusterSeries(cellR: number, gapR: number, colorOf: (name: string, own: string) => string, thinColor: (own: string) => string) {
  const out: any[] = [];
  thinAreas.forEach((a) => {
    const col = thinColor(a.color);
    out.push(<Scatter key={a.name + '-t'} name={a.name + ' thin'} data={toPoints(a.outline)} fill={col} line={{ stroke: col, strokeWidth: 1, strokeLinejoin: 'round', fill: col }} lineType="joint" shape={noMark} isAnimationActive={false} />);
  });
  clusterTable.forEach((c) => {
    const col = colorOf(c.name, c.color);
    out.push(
      <Scatter key={c.name + '-o'} name={c.name} data={toPoints(c.outline)} fill={col} line={{ stroke: col, strokeWidth: 2, strokeLinejoin: 'round', fill: col }} lineType="joint" shape={noMark} isAnimationActive={false} />
    );
    if (c.cells.length) {
      out.push(<Scatter key={c.name + '-c'} name={c.name + ' cells'} data={toPoints(c.cells)} fill={col} shape={cellMark(cellR, col)} isAnimationActive={false} />);
    }
  });
  out.push(<Scatter key="gaps" name="gaps" data={toPoints(denseGaps)} fill="#fff" shape={cellMark(gapR, '#fff')} isAnimationActive={false} />);
  return out;
}

function MainUmap() {
  return (
    <Box l={260} t={95}>
      <ScatterChart width={729} height={550} margin={{ top: 0, right: 1, bottom: 0, left: 0 }}>
        <XAxis type="number" dataKey="x" domain={[-16.6, 13.5]} ticks={xTicksMain} allowDataOverflow height={40} interval={0} stroke="#444" strokeWidth={1.5} tickSize={3} tickMargin={1} tick={{ fontSize: 18, fill: '#333', fontFamily: FONT }} />
        <YAxis type="number" dataKey="y" domain={[-16.9, 14.6]} ticks={yTicksMain} allowDataOverflow width={57} interval={0} stroke="#444" strokeWidth={1.5} tickSize={3} tickMargin={3} tick={{ fontSize: 18, fill: '#333', fontFamily: FONT }} />
        {clusterSeries(1.3, 0.8, (_, own) => own, (own) => own)}
      </ScatterChart>
    </Box>
  );
}

function FeatureUmap({ p }: any) {
  const tint = (name: string) => p.tints[name] || '#d9d9d9';
  return (
    <Box l={p.l - 1} t={p.t}>
      <ScatterChart width={p.r - p.l + 2} height={p.b - p.t + 24} margin={{ top: 0, right: 1, bottom: 0, left: 0 }}>
        <XAxis type="number" dataKey="x" domain={[-17.4, 13.7]} ticks={xTicksFeature} allowDataOverflow height={24} interval={0} stroke="#aaa" strokeWidth={1.2} tickSize={2} tickMargin={3} tick={p.labelled ? { fontSize: 14, fill: '#333', fontFamily: FONT } : false} />
        <YAxis type="number" dataKey="y" domain={[-17.6, 16]} ticks={yTicksFeature} allowDataOverflow width={1} interval={0} stroke="#aaa" strokeWidth={1.2} tickSize={0} tick={false} />
        {clusterSeries(0.5, 0.35, (name) => tint(name), () => '#ececec')}
        {p.patch ? <Scatter name="marked" data={toPoints(p.patch)} fill="#8172e8" line={{ stroke: '#8172e8', strokeWidth: 0.5, fill: '#8172e8' }} lineType="joint" shape={noMark} isAnimationActive={false} /> : null}
      </ScatterChart>
    </Box>
  );
}

function GeneBar({ p }: any) {
  const [x, y, w, h, max] = p.bar;
  const id = 'gene-' + p.id;
  return (
    <Box l={x} t={y - 8}>
      <BarChart width={w + 30} height={h + 16} data={[{ name: p.id, level: max }]} margin={{ top: 8, right: 0, bottom: 8, left: 0 }} barCategoryGap={0}>
        <defs>
          <linearGradient id={id} x1="0" y1="0" x2="0" y2="1">
            <stop offset="0" stopColor="#0000ff" />
            <stop offset="1" stopColor="#d3d3d3" />
          </linearGradient>
        </defs>
        <XAxis dataKey="name" hide />
        <YAxis orientation="right" type="number" domain={[0, max]} ticks={p.ticks} width={30} interval={0} axisLine={false} tickLine={false} tickSize={0} tickMargin={6} tick={{ fontSize: 13, fill: '#222', fontFamily: FONT }} />
        <Bar dataKey="level" fill={`url(#${id})`} isAnimationActive={false} />
      </BarChart>
    </Box>
  );
}

function Heatmap() {
  return (
    <Box l={49} t={882}>
      <BarChart layout="vertical" width={478} height={368} data={heatTable} margin={{ top: 0, right: 0, bottom: 0, left: 0 }} barCategoryGap={0} barGap={0}>
        <defs>
          {heatLevels.map((lv, i) => (
            <pattern key={i} id={'lv' + i} patternUnits="userSpaceOnUse" width={12} height={10}>
              <rect width={12} height={10} fill={lv.bg} />
              {lv.specks.map(([sx, sy], k) => <rect key={k} x={sx} y={sy} width={1} height={2} fill={lv.speck} />)}
            </pattern>
          ))}
        </defs>
        <XAxis type="number" hide domain={[0, total]} allowDataOverflow />
        <YAxis type="category" dataKey="row" hide />
        {heatColumns.map((c, j) => (
          <Bar key={c} dataKey={c} stackId="h" isAnimationActive={false} shapeRendering="crispEdges">
            {heatTable.map((r) => <Cell key={r.row} fill={`url(#lv${r.levels[j] || 1})`} />)}
          </Bar>
        ))}
        {boundaries.slice(0, -1).map((b) => <ReferenceLine key={b} x={b} stroke="#d4d4d4" strokeWidth={1.4} />)}
      </BarChart>
    </Box>
  );
}

function HeatStrips() {
  const stripRow = [rowOf('strip', heatCellCounts, heatColumns)];
  const groupRow = [rowOf('group', groupWidths, groupKeys)];
  return (
    <>
      <Box l={49} t={856}>
        <BarChart layout="vertical" width={478} height={25} data={groupRow} margin={{ top: 0, right: 0, bottom: 0, left: 0 }} barCategoryGap={0}>
          <XAxis type="number" hide domain={[0, total]} allowDataOverflow />
          <YAxis type="category" dataKey="row" hide />
          {groupKeys.map((k) => <Bar key={k} dataKey={k} stackId="g" fill="none" stroke="#222" strokeWidth={1.2} isAnimationActive={false} />)}
        </BarChart>
      </Box>
      <Box l={49} t={863}>
        <BarChart layout="vertical" width={478} height={17} data={stripRow} margin={{ top: 0, right: 0, bottom: 0, left: 0 }} barCategoryGap={0}>
          <XAxis type="number" hide domain={[0, total]} allowDataOverflow />
          <YAxis type="category" dataKey="row" hide />
          {heatColumns.map((c, j) => (
            <Bar key={c} dataKey={c} stackId="s" fill={stripColors[j]} stroke="#fff" strokeWidth={0.6} isAnimationActive={false}>
              {stripNumbers[j] ? <LabelList dataKey={c} position="center" formatter={() => stripNumbers[j]} fontSize={heatCellCounts[j] < 30 ? 12 : 15} fill="#222" fontFamily={FONT} /> : null}
            </Bar>
          ))}
        </BarChart>
      </Box>
    </>
  );
}

function ExpressionKey() {
  return (
    <Box l={564} t={843}>
      <BarChart layout="vertical" width={107} height={44} data={[{ row: 'Expression', span: expressionRange }]} margin={{ top: 0, right: 0, bottom: 0, left: 0 }} barCategoryGap={0}>
        <defs>
          <linearGradient id="expr" x1="0" y1="0" x2="1" y2="0">
            <stop offset="0" stopColor="#ff00ff" />
            <stop offset="0.5" stopColor="#000" />
            <stop offset="1" stopColor="#ffff00" />
          </linearGradient>
        </defs>
        <XAxis type="number" domain={expressionRange} ticks={expressionTicks} height={22} interval={0} axisLine={false} tickLine={false} tickSize={0} tickMargin={2} tick={{ fontSize: 15, fill: '#222', fontFamily: FONT }} />
        <YAxis type="category" dataKey="row" hide />
        <Bar dataKey="span" fill="url(#expr)" isAnimationActive={false} />
      </BarChart>
    </Box>
  );
}

function Overlay() {
  const txt = (s: string, x: number, y: number, size: number, extra: any = {}) => (
    <text key={s + x + y} x={x} y={y} fontSize={size} fontFamily={FONT} fill="#1c1c1c" {...extra}>{s}</text>
  );
  return (
    <svg width={1269} height={1516} style={{ position: 'absolute', left: 0, top: 0, pointerEvents: 'none' }}>
      <line x1={7} y1={8.5} x2={1269} y2={8.5} stroke="#333" strokeWidth={1} />
      <line x1={7.5} y1={8} x2={7.5} y2={1516} stroke="#333" strokeWidth={1} />
      {panelLetters.map(([s, x, y]) => txt(s as string, x as number, y as number, 32, { fontWeight: 700, fill: '#000' }))}
      {txt('30,234 cells', 752, 115, 32, { fontWeight: 700, fill: '#111' })}
      {regularLabels.map(([s, x, y]) => txt(s as string, x as number, y as number, 26.6))}
      {boldLabels.map(([s, x, y]) => txt(s as string, x as number, y as number, 26.5, { fontWeight: 700 }))}
      {txt('UMAP1', 578, 631, 26.6)}
      <text x={295} y={378} fontSize={27} fontFamily={FONT} fill="#1c1c1c" transform="rotate(-90 295 378)">UMAP2</text>
      <line x1={651} y1={142} x2={651} y2={214} stroke="#333" strokeWidth={1.3} />
      <path d="M646 212 L656 212 L651 223 Z" fill="#333" />
      {headerLabels.map(([s, x, y]) => (
        <text key={s as string} x={x as number} y={y as number} fontSize={21.5} fontFamily={FONT} fill="#1c1c1c" transform={`rotate(-50 ${x} ${y})`}>{s}</text>
      ))}
      {txt('Expression', 579, 838, 15)}
      {geneLabels.map(([s, y]) => txt(s as string, 528, y as number, 16, { fontStyle: 'italic' }))}
      {geneRules.map((y) => <line key={y} x1={529} y1={y} x2={662} y2={y} stroke="#333" strokeWidth={1} />)}
      {featurePanels.map((p) => p.tag ? txt(p.tag, p.tagX, p.tagY, 31, { fontWeight: 700, fill: '#000' }) : null)}
      {featurePanels.map((p) => txt(p.id, p.geneX, p.geneY, 32, { fontStyle: 'italic', fill: '#000' }))}
    </svg>
  );
}

export default function App() {
  return (
    <div style={{ position: 'absolute', left: 0, top: 0, width: 1269, height: 1516, background: '#fff', overflow: 'hidden' }}>
      <MainUmap />
      <HeatStrips />
      <Heatmap />
      <ExpressionKey />
      {featurePanels.map((p) => <FeatureUmap key={p.id} p={p} />)}
      {featurePanels.map((p) => <GeneBar key={p.id} p={p} />)}
      <Overlay />
    </div>
  );
}
